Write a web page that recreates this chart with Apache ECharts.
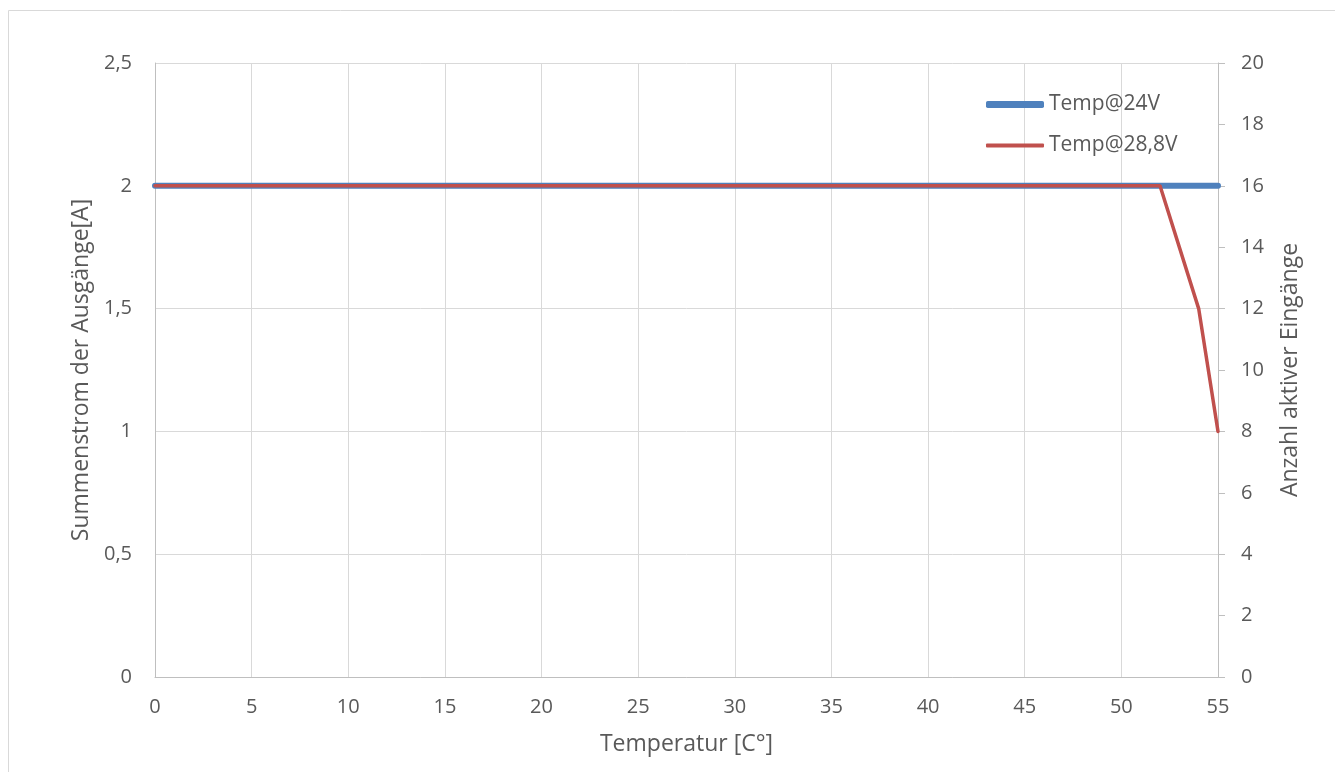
<!DOCTYPE html>
<html>
<head>
<meta charset="utf-8">
<script src="https://cdn.jsdelivr.net/npm/echarts@6/dist/echarts.min.js"></script>
<style>html,body{margin:0;padding:0;background:#fff}#c{width:1335px;height:772px}</style>
</head>
<body>
<div id="c"></div>
<script>
const temp24 = [0, 55];
const strom24 = [2, 2];
const temp288 = [0, 52, 54, 55];
const strom288 = [2, 2, 1.5, 1];
const seriesNames = ['Temp@24V', 'Temp@28,8V'];
const xTitle = 'Temperatur [C°]';
const yLeftTitle = 'Summenstrom der Ausgänge[A]';
const yRightTitle = 'Anzahl aktiver Eingänge';

const fmt = v => String(v).replace('.', ',');
const font = '"Open Sans", "Liberation Sans", sans-serif';
const txt = '#595959';
const gridC = '#d9d9d9';
const axC = '#bfbfbf';

const chart = echarts.init(document.getElementById('c'));
chart.setOption({
  animation: false,
  graphic: [{
    type: 'rect', shape: { x: 8.5, y: 10.5, width: 1340, height: 800 },
    style: { fill: 'none', stroke: gridC, lineWidth: 1 }, silent: true
  }],
  grid: { left: 155, right: 117, top: 63, bottom: 95 },
  legend: [{
    data: [{ name: seriesNames[0] }], left: 981, top: 89, orient: 'vertical',
    icon: 'roundRect', itemWidth: 58, itemHeight: 7,
    textStyle: { color: txt, fontSize: 21, fontFamily: font }
  }, {
    data: [{ name: seriesNames[1] }], left: 981, top: 130, orient: 'vertical',
    icon: 'roundRect', itemWidth: 58, itemHeight: 4,
    textStyle: { color: txt, fontSize: 21, fontFamily: font }
  }],
  xAxis: {
    type: 'value', min: 0, max: 55, interval: 5,
    name: xTitle, nameLocation: 'middle', nameGap: 56,
    nameTextStyle: { color: txt, fontSize: 23, fontFamily: font },
    axisLine: { show: true, lineStyle: { color: axC } },
    axisTick: { show: false },
    axisLabel: { color: txt, fontSize: 20, fontFamily: font, margin: 20 },
    splitLine: { show: true, lineStyle: { color: gridC } }
  },
  yAxis: [{
    type: 'value', min: 0, max: 2.5, interval: 0.5, position: 'left',
    name: yLeftTitle, nameLocation: 'middle', nameGap: 61, nameRotate: 90,
    nameTextStyle: { color: txt, fontSize: 23, fontFamily: font },
    axisLine: { show: true, lineStyle: { color: axC } },
    axisTick: { show: false },
    axisLabel: { color: txt, fontSize: 20, fontFamily: font, margin: 23, formatter: fmt },
    splitLine: { show: true, lineStyle: { color: gridC } }
  }, {
    type: 'value', min: 0, max: 20, interval: 2, position: 'right',
    name: yRightTitle, nameLocation: 'middle', nameGap: 61, nameRotate: 90,
    nameTextStyle: { color: txt, fontSize: 23, fontFamily: font },
    axisLine: { show: true, lineStyle: { color: axC } },
    axisTick: { show: true, inside: false, length: 7, lineStyle: { color: axC } },
    axisLabel: { color: txt, fontSize: 20, fontFamily: font, margin: 23, formatter: fmt },
    splitLine: { show: false }
  }],
  series: [{
    name: seriesNames[0], type: 'line', yAxisIndex: 0, symbol: 'none',
    data: temp24.map((t, i) => [t, strom24[i]]),
    lineStyle: { color: '#4f81bd', width: 6, cap: 'round' },
    itemStyle: { color: '#4f81bd' }, z: 2
  }, {
    name: seriesNames[1], type: 'line', yAxisIndex: 0, symbol: 'none',
    data: temp288.map((t, i) => [t, strom288[i]]),
    lineStyle: { color: '#c0504d', width: 3.5, cap: 'round' },
    itemStyle: { color: '#c0504d' }, z: 3
  }]
});
</script>
</body>
</html>
